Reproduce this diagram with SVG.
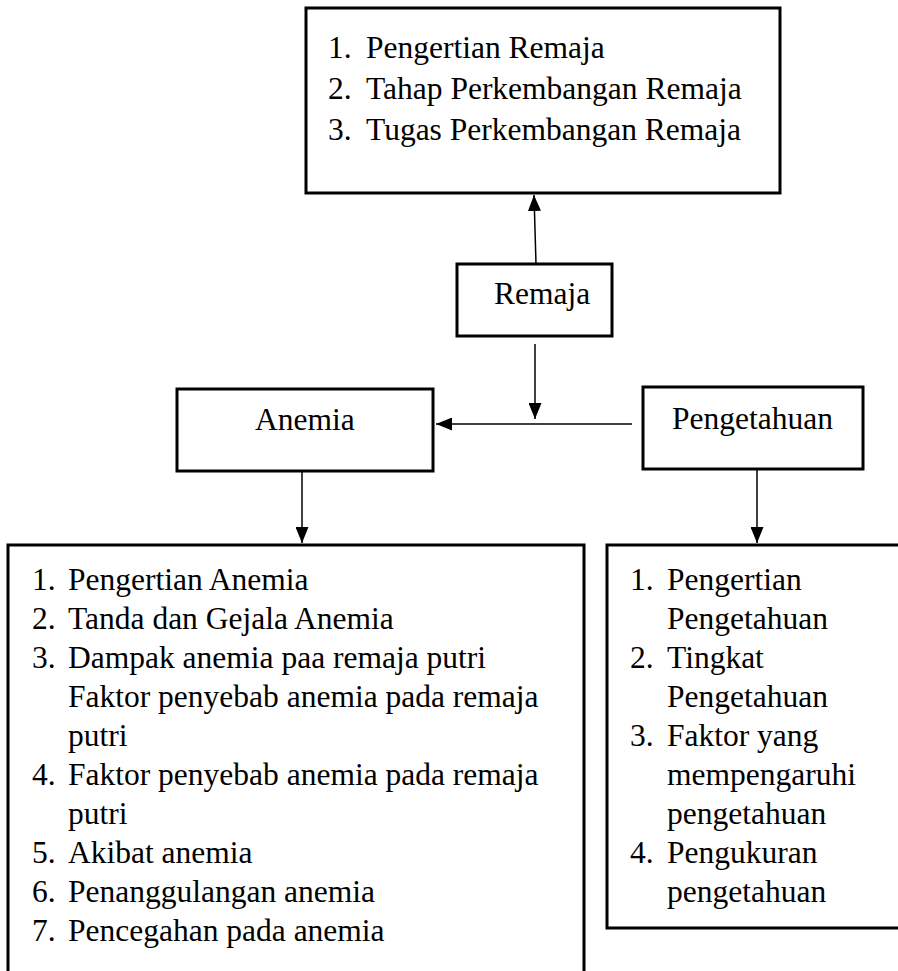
<svg xmlns="http://www.w3.org/2000/svg" width="898" height="971" viewBox="0 0 898 971">
<defs>
<style>
.box{fill:#fff;stroke:#000;stroke-width:3}
.t{font-family:"Liberation Serif","Times New Roman",serif;font-size:31.5px;fill:#000}
.c{stroke:#000;stroke-width:1.5;fill:none}
</style>
<marker id="ah" viewBox="0 0 16 13" refX="16" refY="6.5" markerWidth="16" markerHeight="13" markerUnits="userSpaceOnUse" orient="auto">
<path d="M0,0 L16,6.5 L0,13 Z" fill="#000"/>
</marker>
</defs>
<rect width="898" height="971" fill="#fff"/>
<g id="connectors">
<line class="c" x1="536" y1="264" x2="534" y2="195" marker-end="url(#ah)"/>
<line class="c" x1="535" y1="344" x2="535" y2="419" marker-end="url(#ah)"/>
<line class="c" x1="632" y1="424" x2="436" y2="424" marker-end="url(#ah)"/>
<line class="c" x1="302" y1="468" x2="302" y2="543" marker-end="url(#ah)"/>
<line class="c" x1="757" y1="469" x2="757" y2="543" marker-end="url(#ah)"/>
</g>
<g id="node-top">
<rect class="box" x="306" y="8" width="474" height="185"/>
<text class="t" x="328" y="58">1.</text><text class="t" x="366" y="58">Pengertian Remaja</text>
<text class="t" x="328" y="99">2.</text><text class="t" x="366" y="99">Tahap Perkembangan Remaja</text>
<text class="t" x="328" y="140">3.</text><text class="t" x="366" y="140">Tugas Perkembangan Remaja</text>
</g>
<g id="node-remaja">
<rect class="box" x="457" y="264" width="155" height="72"/>
<text class="t" x="494" y="304">Remaja</text>
</g>
<g id="node-anemia">
<rect class="box" x="177" y="389" width="256" height="82"/>
<text class="t" x="255" y="430">Anemia</text>
</g>
<g id="node-pengetahuan">
<rect class="box" x="643" y="387" width="220" height="82"/>
<text class="t" x="672" y="429">Pengetahuan</text>
</g>
<g id="node-anemia-list">
<path class="box" d="M8,975 V545 H584 V975"/>
<text class="t" x="32" y="590">1.</text><text class="t" x="68" y="590">Pengertian Anemia</text>
<text class="t" x="32" y="629">2.</text><text class="t" x="68" y="629">Tanda dan Gejala Anemia</text>
<text class="t" x="32" y="668">3.</text><text class="t" x="68" y="668">Dampak anemia paa remaja putri</text>
<text class="t" x="68" y="707">Faktor penyebab anemia pada remaja</text>
<text class="t" x="68" y="746">putri</text>
<text class="t" x="32" y="785">4.</text><text class="t" x="68" y="785">Faktor penyebab anemia pada remaja</text>
<text class="t" x="68" y="824">putri</text>
<text class="t" x="32" y="863">5.</text><text class="t" x="68" y="863">Akibat anemia</text>
<text class="t" x="32" y="902">6.</text><text class="t" x="68" y="902">Penanggulangan anemia</text>
<text class="t" x="32" y="941">7.</text><text class="t" x="68" y="941">Pencegahan pada anemia</text>
</g>
<g id="node-pengetahuan-list">
<rect class="box" x="607" y="545" width="300" height="383"/>
<text class="t" x="630" y="590">1.</text><text class="t" x="667" y="590">Pengertian</text>
<text class="t" x="667" y="629">Pengetahuan</text>
<text class="t" x="630" y="668">2.</text><text class="t" x="667" y="668">Tingkat</text>
<text class="t" x="667" y="707">Pengetahuan</text>
<text class="t" x="630" y="746">3.</text><text class="t" x="667" y="746">Faktor yang</text>
<text class="t" x="667" y="785">mempengaruhi</text>
<text class="t" x="667" y="824">pengetahuan</text>
<text class="t" x="630" y="863">4.</text><text class="t" x="667" y="863">Pengukuran</text>
<text class="t" x="667" y="902">pengetahuan</text>
</g>
</svg>
